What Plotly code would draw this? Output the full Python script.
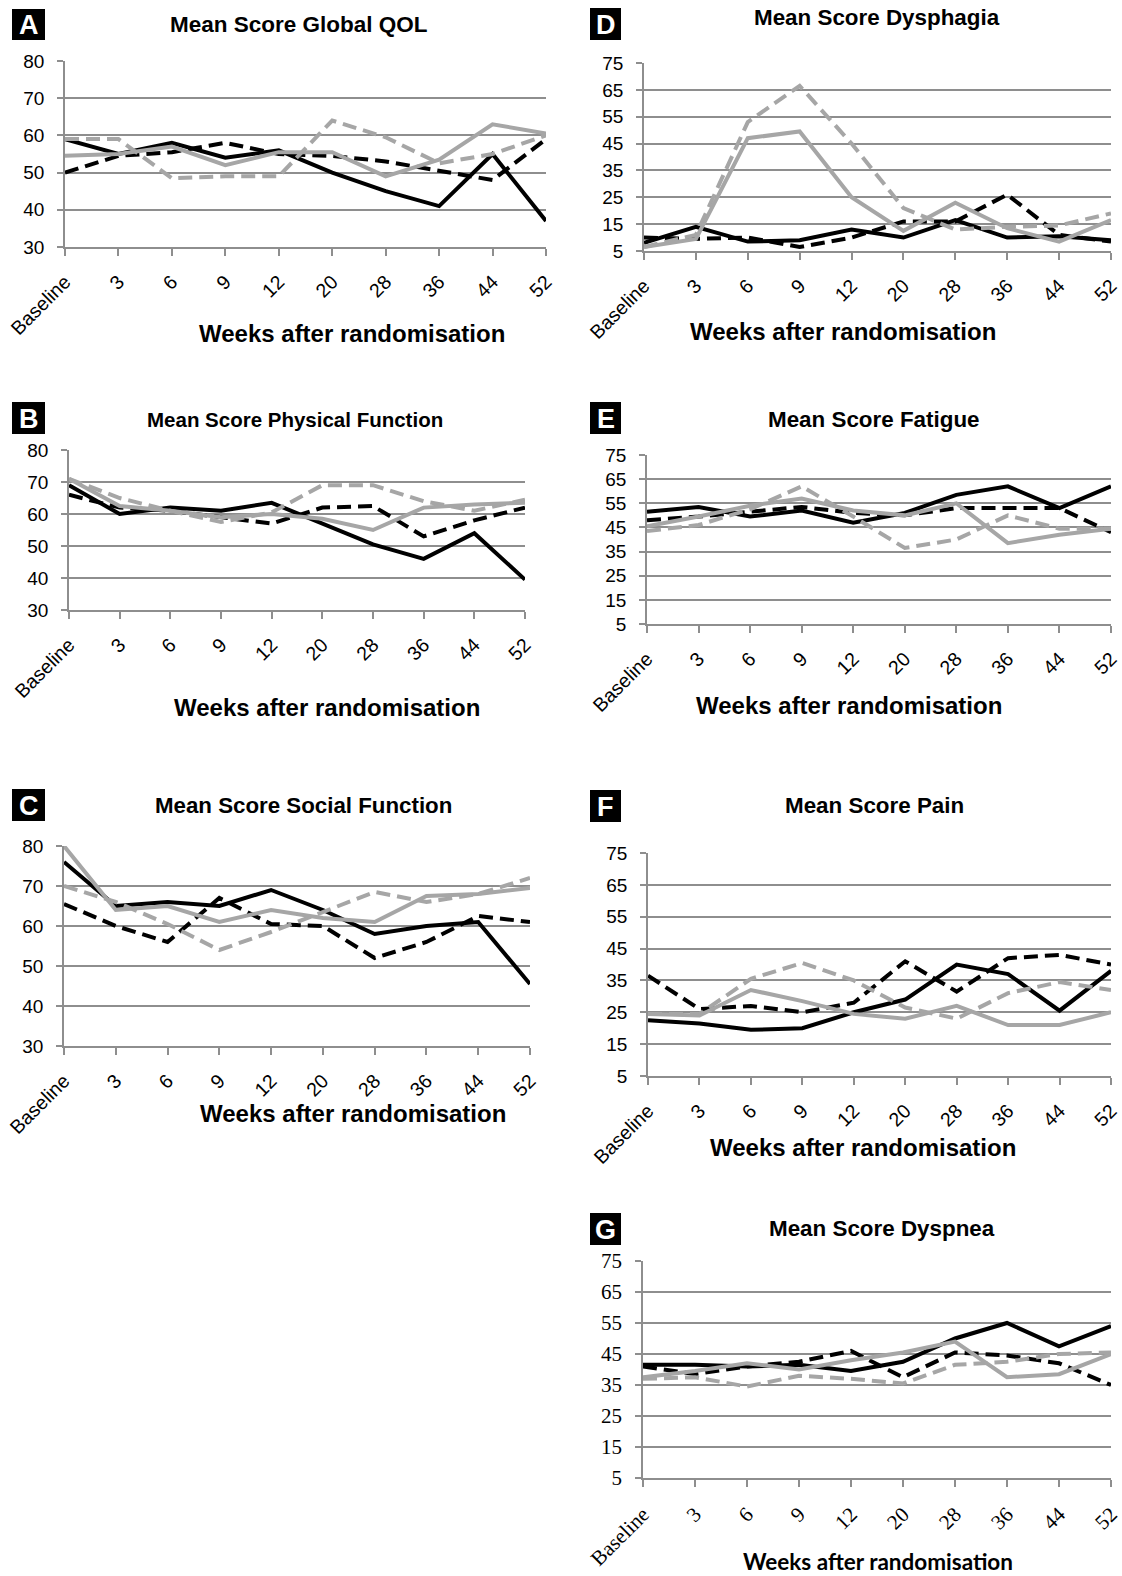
import plotly.graph_objects as go

W, H = 1122, 1576

weeks = ["Baseline", "3", "6", "9", "12", "20", "28", "36", "44", "52"]

# Panel A - Global QOL
qol_black_solid = [59, 55, 58, 54, 56, 50, 45, 41, 55, 37]
qol_black_dash = [50, 54.5, 55.5, 58, 55, 54.5, 53, 50.5, 48, 59]
qol_gray_solid = [54.5, 55, 57, 52, 55.5, 55.5, 49, 53.5, 63, 60.5]
qol_gray_dash = [59, 59, 48.5, 49, 49, 64, 59.5, 52.5, 55, 60]

# Panel B - Physical Function
phys_black_solid = [69, 60, 62, 61, 63.5, 57, 50.5, 46, 54, 39.5]
phys_black_dash = [66, 62, 61, 59, 57, 62, 62.5, 53, 58, 62]
phys_gray_solid = [71, 62.5, 61, 59, 60, 58.5, 55, 62, 63, 63.5]
phys_gray_dash = [71, 65, 61, 57.5, 60.5, 69, 69, 64, 61, 64.5]

# Panel C - Social Function
soc_black_solid = [76, 65, 66, 65, 69, 64, 58, 60, 61, 45.5]
soc_black_dash = [65.5, 60, 56, 67, 60.5, 60, 52, 56, 62.5, 61]
soc_gray_solid = [80, 64, 65, 61, 64, 62, 61, 67.5, 68, 69.5]
soc_gray_dash = [70, 66, 60.5, 54, 58.5, 63.5, 68.5, 66, 68, 72]

# Panel D - Dysphagia
dys_black_solid = [8, 14, 8.5, 9, 13, 10, 16.5, 10, 10.5, 9]
dys_black_dash = [10, 9.5, 10, 6.5, 10, 16, 16, 26, 11, 8.5]
dys_gray_solid = [6.5, 9.5, 47, 49.5, 25, 12.5, 23, 13.5, 8.5, 16.5]
dys_gray_dash = [6.5, 11, 53, 66.5, 45, 21, 13, 14, 14.5, 19]

# Panel E - Fatigue
fat_black_solid = [51.5, 53.5, 49.5, 52, 47, 51, 58.5, 62, 53, 62]
fat_black_dash = [48, 49.5, 51.5, 53.5, 51, 50, 53, 53, 53, 43]
fat_gray_solid = [45.5, 49.5, 54, 57, 52, 50, 55, 38.5, 42, 44.5]
fat_gray_dash = [43.5, 46, 52.5, 62, 49.5, 36.5, 40, 50, 44.5, 44.5]

# Panel F - Pain
pain_black_solid = [22.5, 21.5, 19.5, 20, 25, 29, 40, 37, 25.5, 38]
pain_black_dash = [36.5, 26, 27, 25, 28, 41, 31.5, 42, 43, 40]
pain_gray_solid = [24.5, 24, 32, 28.5, 24.5, 23, 27, 21, 21, 25]
pain_gray_dash = [24.5, 24.5, 35.5, 40.5, 35, 26.5, 23, 31, 34.5, 32]

# Panel G - Dyspnea
dysp_black_solid = [41.5, 41.5, 41, 41.5, 39.5, 42.5, 50, 55, 47.5, 54]
dysp_black_dash = [41, 38.5, 41, 42.5, 46, 37.5, 45.5, 44.5, 42, 35]
dysp_gray_solid = [37.5, 39.5, 42, 40, 43, 45.5, 49, 37.5, 38.5, 45]
dysp_gray_dash = [37, 37.5, 34.5, 38, 37, 35.5, 41.5, 42.5, 45, 45.5]

letters = ["A", "B", "C", "D", "E", "F", "G"]
titles = ["Mean Score Global QOL", "Mean Score Physical Function", "Mean Score Social Function",
          "Mean Score Dysphagia", "Mean Score Fatigue", "Mean Score Pain", "Mean Score Dyspnea"]
xtitle = "Weeks after randomisation"

series = [
    (qol_black_solid, qol_black_dash, qol_gray_solid, qol_gray_dash),
    (phys_black_solid, phys_black_dash, phys_gray_solid, phys_gray_dash),
    (soc_black_solid, soc_black_dash, soc_gray_solid, soc_gray_dash),
    (dys_black_solid, dys_black_dash, dys_gray_solid, dys_gray_dash),
    (fat_black_solid, fat_black_dash, fat_gray_solid, fat_gray_dash),
    (pain_black_solid, pain_black_dash, pain_gray_solid, pain_gray_dash),
    (dysp_black_solid, dysp_black_dash, dysp_gray_solid, dysp_gray_dash),
]

# layout geometry in pixels: plot area (left, right, top, bottom), title pos, xtitle pos, letter box
panels = [
    dict(area=(65, 546, 61, 247), yr=(30, 80), title=(299, 24, 22.5), xt=(352, 334), box=(12, 45, 9, 40)),
    dict(area=(69, 525, 450, 610), yr=(30, 80), title=(295, 420, 20.5), xt=(327, 707), box=(12, 45, 402, 434)),
    dict(area=(64, 530, 846, 1046), yr=(30, 80), title=(303, 806, 22.3), xt=(353, 1113), box=(12, 45, 789, 821)),
    dict(area=(644, 1111, 63, 251), yr=(5, 75), title=(877, 18, 22.4), xt=(843, 331), box=(590, 621, 8, 40)),
    dict(area=(647, 1111, 455, 624), yr=(5, 75), title=(874, 420, 22.4), xt=(849, 705), box=(590, 621, 402, 434)),
    dict(area=(648, 1111, 853, 1076), yr=(5, 75), title=(874, 805, 22.4), xt=(863, 1147), box=(590, 621, 790, 822)),
    dict(area=(643, 1111, 1261, 1478), yr=(5, 75), title=(882, 1228, 22.4), xt=(878, 1561), box=(590, 621, 1213, 1245)),
]

BLACK = "#000000"
GRAY = "#a6a6a6"
GRID = "#8e8e8e"
styles = [(BLACK, "solid"), (BLACK, "14px,7px"), (GRAY, "solid"), (GRAY, "14px,7px")]
draw_order = [1, 0, 3, 2]

fig = go.Figure()
annotations = []
shapes = []
layout = {}

def px(xp):
    return xp / W

def py(yp):
    return 1 - yp / H

for i, p in enumerate(panels):
    n = "" if i == 0 else str(i + 1)
    xa, ya = "x" + n, "y" + n
    l, r, t, b = p["area"]
    tick_font_family = "Liberation Serif" if i == 6 else "Liberation Sans"
    xtick_size = 21 if i == 6 else 19.5
    ytick_size = 21 if i == 6 else 19
    for k in draw_order:
        col, dash = styles[k]
        fig.add_trace(go.Scatter(x=weeks, y=series[i][k], mode="lines",
                                 line=dict(color=col, width=4, dash=dash),
                                 xaxis=xa, yaxis=ya, showlegend=False, hoverinfo="skip"))
    layout["xaxis" + n] = dict(domain=[px(l), px(r)], anchor=ya, type="category",
                               categoryorder="array", categoryarray=weeks, automargin=False,
                               range=[0, len(weeks) - 1], showgrid=False, zeroline=False,
                               showline=True, linecolor=GRID, linewidth=1.5,
                               ticks="outside", ticklen=7, tickcolor=GRID, tickwidth=1.5,
                               ticklabelstandoff=7,
                               tickangle=-45, tickfont=dict(family=tick_font_family, size=xtick_size, color="#000"))
    y0, y1 = p["yr"]
    layout["yaxis" + n] = dict(domain=[py(b), py(t)], anchor=xa, range=[y0, y1], automargin=False,
                               tick0=y0, dtick=10, showgrid=True, gridcolor=GRID, gridwidth=1.5,
                               zeroline=False, showline=True, linecolor=GRID, linewidth=1.5,
                               ticks="outside", ticklen=6, tickcolor=GRID, tickwidth=1.5,
                               ticklabelstandoff=9,
                               tickfont=dict(family=tick_font_family, size=ytick_size, color="#000"))
    tx, ty, ts = p["title"]
    annotations.append(dict(text="<b>" + titles[i] + "</b>", x=px(tx), y=py(ty), xref="paper", yref="paper",
                            xanchor="center", yanchor="middle", showarrow=False,
                            font=dict(family="Liberation Sans", size=ts, color="#000")))
    xx, xy = p["xt"]
    annotations.append(dict(text="<b>" + xtitle + "</b>", x=px(xx), y=py(xy), xref="paper", yref="paper",
                            xanchor="center", yanchor="middle", showarrow=False,
                            font=dict(family="Lato" if i == 6 else "Liberation Sans",
                                      size=22.5 if i == 6 else 24, color="#000")))
    bx0, bx1, by0, by1 = p["box"]
    shapes.append(dict(type="rect", xref="paper", yref="paper", x0=px(bx0), x1=px(bx1),
                       y0=py(by1), y1=py(by0), fillcolor="#000", line=dict(width=0)))
    annotations.append(dict(text="<b>" + letters[i] + "</b>", x=px((bx0 + bx1) / 2), y=py((by0 + by1) / 2 + 1),
                            xref="paper", yref="paper", xanchor="center", yanchor="middle", showarrow=False,
                            font=dict(family="Liberation Sans", size=27, color="#fff")))

fig.update_layout(width=W, height=H, margin=dict(l=0, r=0, t=0, b=0, autoexpand=False), autosize=False,
                  paper_bgcolor="white", plot_bgcolor="white",
                  annotations=annotations, shapes=shapes, **layout)

fig.write_html("out.html", config={"displayModeBar": False},
               post_script="document.body.style.margin='0px';document.body.style.overflow='hidden';")
